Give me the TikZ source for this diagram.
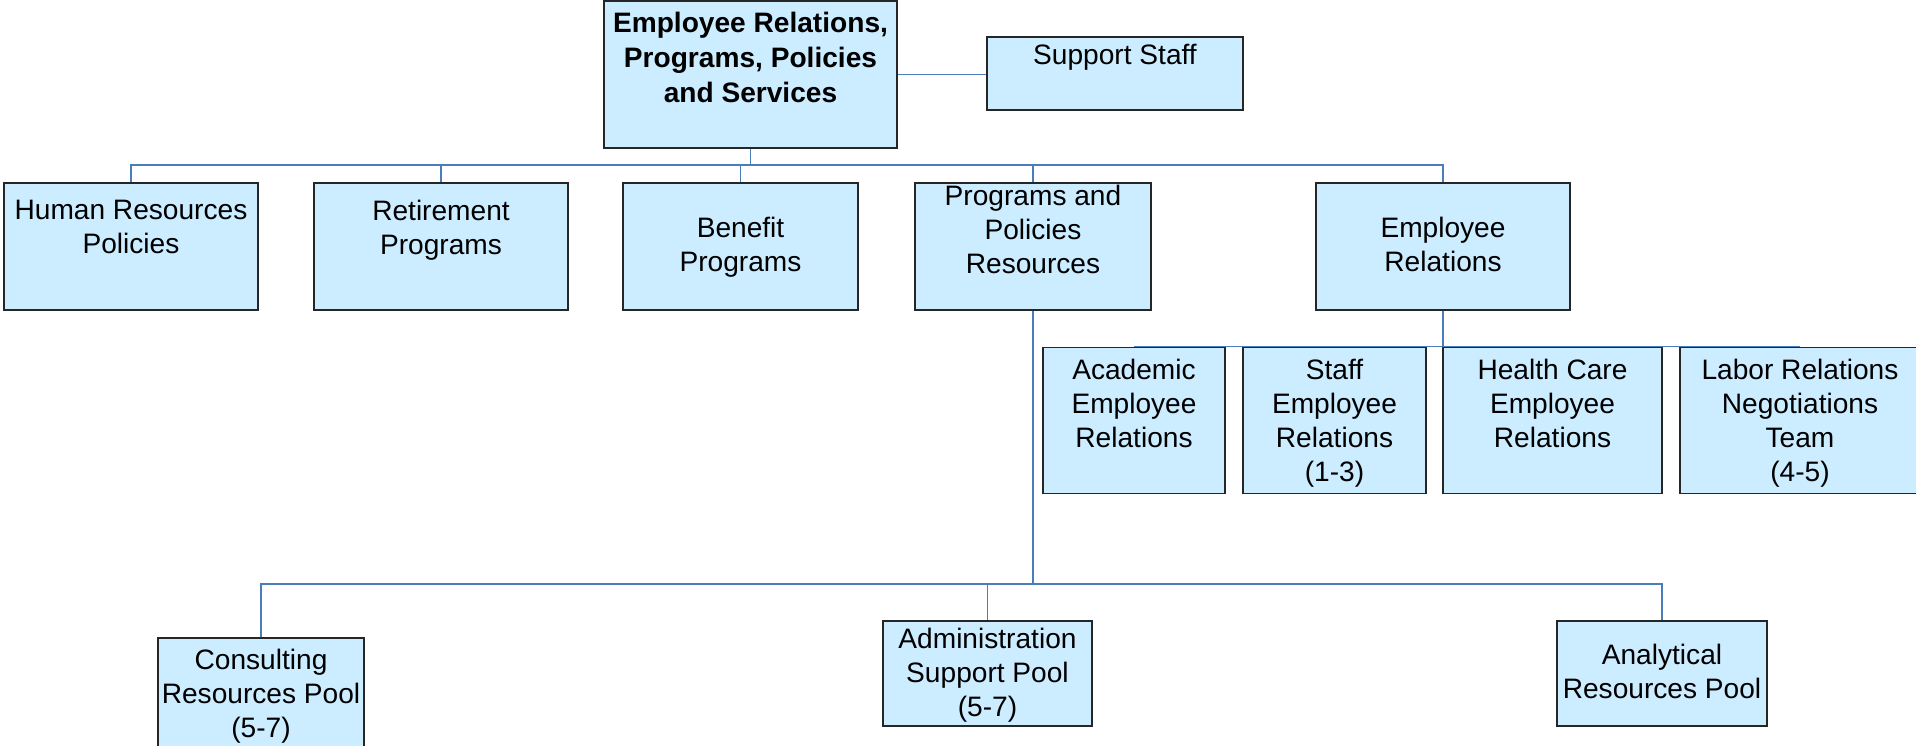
\documentclass[tikz,border=0pt]{standalone}
\usepackage{fontspec}
\setmainfont{Liberation Sans}
\usetikzlibrary{calc, positioning}
\definecolor{unitfill}{RGB}{204,236,255}
\definecolor{linkblue}{RGB}{74,126,187}

\begin{document}
\begin{tikzpicture}[x=0.02cm, y=-0.02cm,
    unit/.style={draw=black!85, line width=1pt, fill=unitfill, inner sep=0pt},
    txt/.style={align=center, anchor=north, inner sep=0pt, font=\fontsize{16}{19.3}\selectfont},
    link/.style={draw=linkblue, line width=0.8pt}]
      \useasboundingbox (0,0) rectangle (1916,745);
      \clip (0,0) rectangle (1916,745);

      %► Head of the chart and its support
      \node[unit, minimum width=5.86cm, minimum height=2.94cm] (head) at (750.5,74.5) {};
      \node[unit, minimum width=5.12cm, minimum height=1.46cm] (support) at (1115,73.5) {};

      %► First row of units
      \node[unit, minimum width=5.08cm, minimum height=2.54cm] (hrpol)   at (131,246.5)  {};
      \node[unit, minimum width=5.08cm, minimum height=2.54cm] (retire)  at (441,246.5)  {};
      \node[unit, minimum width=4.70cm, minimum height=2.54cm] (benefit) at (740.5,246.5) {};
      \node[unit, minimum width=4.72cm, minimum height=2.54cm] (progres) at (1033,246.5) {};
      \node[unit, minimum width=5.08cm, minimum height=2.54cm] (emprel)  at (1443,246.5) {};

      %► Units under Employee Relations
      \node[unit, minimum width=3.64cm, minimum height=2.92cm] (academic) at (1134,420.5) {};
      \node[unit, minimum width=3.66cm, minimum height=2.92cm] (staff)    at (1334.5,420.5) {};
      \node[unit, minimum width=4.38cm, minimum height=2.92cm] (health)   at (1552.5,420.5) {};
      \node[unit, minimum width=4.80cm, minimum height=2.92cm] (labor)    at (1800,420.5) {};

      %► Pools under Programs and Policies Resources
      \node[unit, minimum width=4.12cm, minimum height=2.20cm] (consult) at (261,693)     {};
      \node[unit, minimum width=4.18cm, minimum height=2.10cm] (admin)   at (987.5,673.5) {};
      \node[unit, minimum width=4.20cm, minimum height=2.10cm] (analyt)  at (1662,673.5)  {};

      %► Connectors
      \coordinate (busA) at (0,165);   % bus under the head
      \coordinate (busB) at (0,584);   % bus over the pools
      \draw[link] (head.east) -- (head.east -| support.west);
      \draw[link] (head.south) -- (head.south |- busA);
      \draw[link] (hrpol.north) -- (hrpol.north |- busA) -- (emprel.north |- busA) -- (emprel.north);
      \foreach \u in {retire, benefit, progres}
        \draw[link] (\u.north) -- (\u.north |- busA);
      \draw[link] (emprel.south) -- (emprel.south |- academic.north);
      \draw[link] (academic.north) -- (labor.north);
      \draw[link] (progres.south) -- (progres.south |- busB);
      \draw[link] (consult.north) -- (consult.north |- busB) -- (analyt.north |- busB) -- (analyt.north);
      \draw[link] (admin.north) -- (admin.north |- busB);

      %► Texts
      \node[txt, font=\fontsize{16}{19.9}\selectfont\bfseries] (head-t) at ($(head.north)+(0,12)$)
        {Employee Relations,\\Programs, Policies\\and Services};
      \node[txt] (support-t)  at ($(support.north)+(0,8)$)   {Support Staff};
      \node[txt] (hrpol-t)    at ($(hrpol.north)+(0,18)$)    {Human Resources\\Policies};
      \node[txt] (retire-t)   at ($(retire.north)+(0,18)$)   {Retirement\\Programs};
      \node[txt] (benefit-t)  at ($(benefit.north)+(0,35)$)  {Benefit\\Programs};
      \node[txt] (progres-t)  at ($(progres.north)+(0,2.5)$) {Programs and\\Policies\\Resources};
      \node[txt] (emprel-t)   at ($(emprel.north)+(0,35)$)   {Employee\\Relations};
      \node[txt] (academic-t) at ($(academic.north)+(0,12)$) {Academic\\Employee\\Relations};
      \node[txt] (staff-t)    at ($(staff.north)+(0,12)$)    {Staff\\Employee\\Relations\\(1-3)};
      \node[txt] (health-t)   at ($(health.north)+(0,12)$)   {Health Care\\Employee\\Relations};
      \node[txt] (labor-t)    at ($(labor.north)+(0,12)$)    {Labor Relations\\Negotiations\\Team\\(4-5)};
      \node[txt] (consult-t)  at ($(consult.north)+(0,12)$)  {Consulting\\Resources Pool\\(5-7)};
      \node[txt] (admin-t)    at ($(admin.north)+(0,8)$)     {Administration\\Support Pool\\(5-7)};
      \node[txt] (analyt-t)   at ($(analyt.north)+(0,24)$)   {Analytical\\Resources Pool};
    \end{tikzpicture}
\end{document}
